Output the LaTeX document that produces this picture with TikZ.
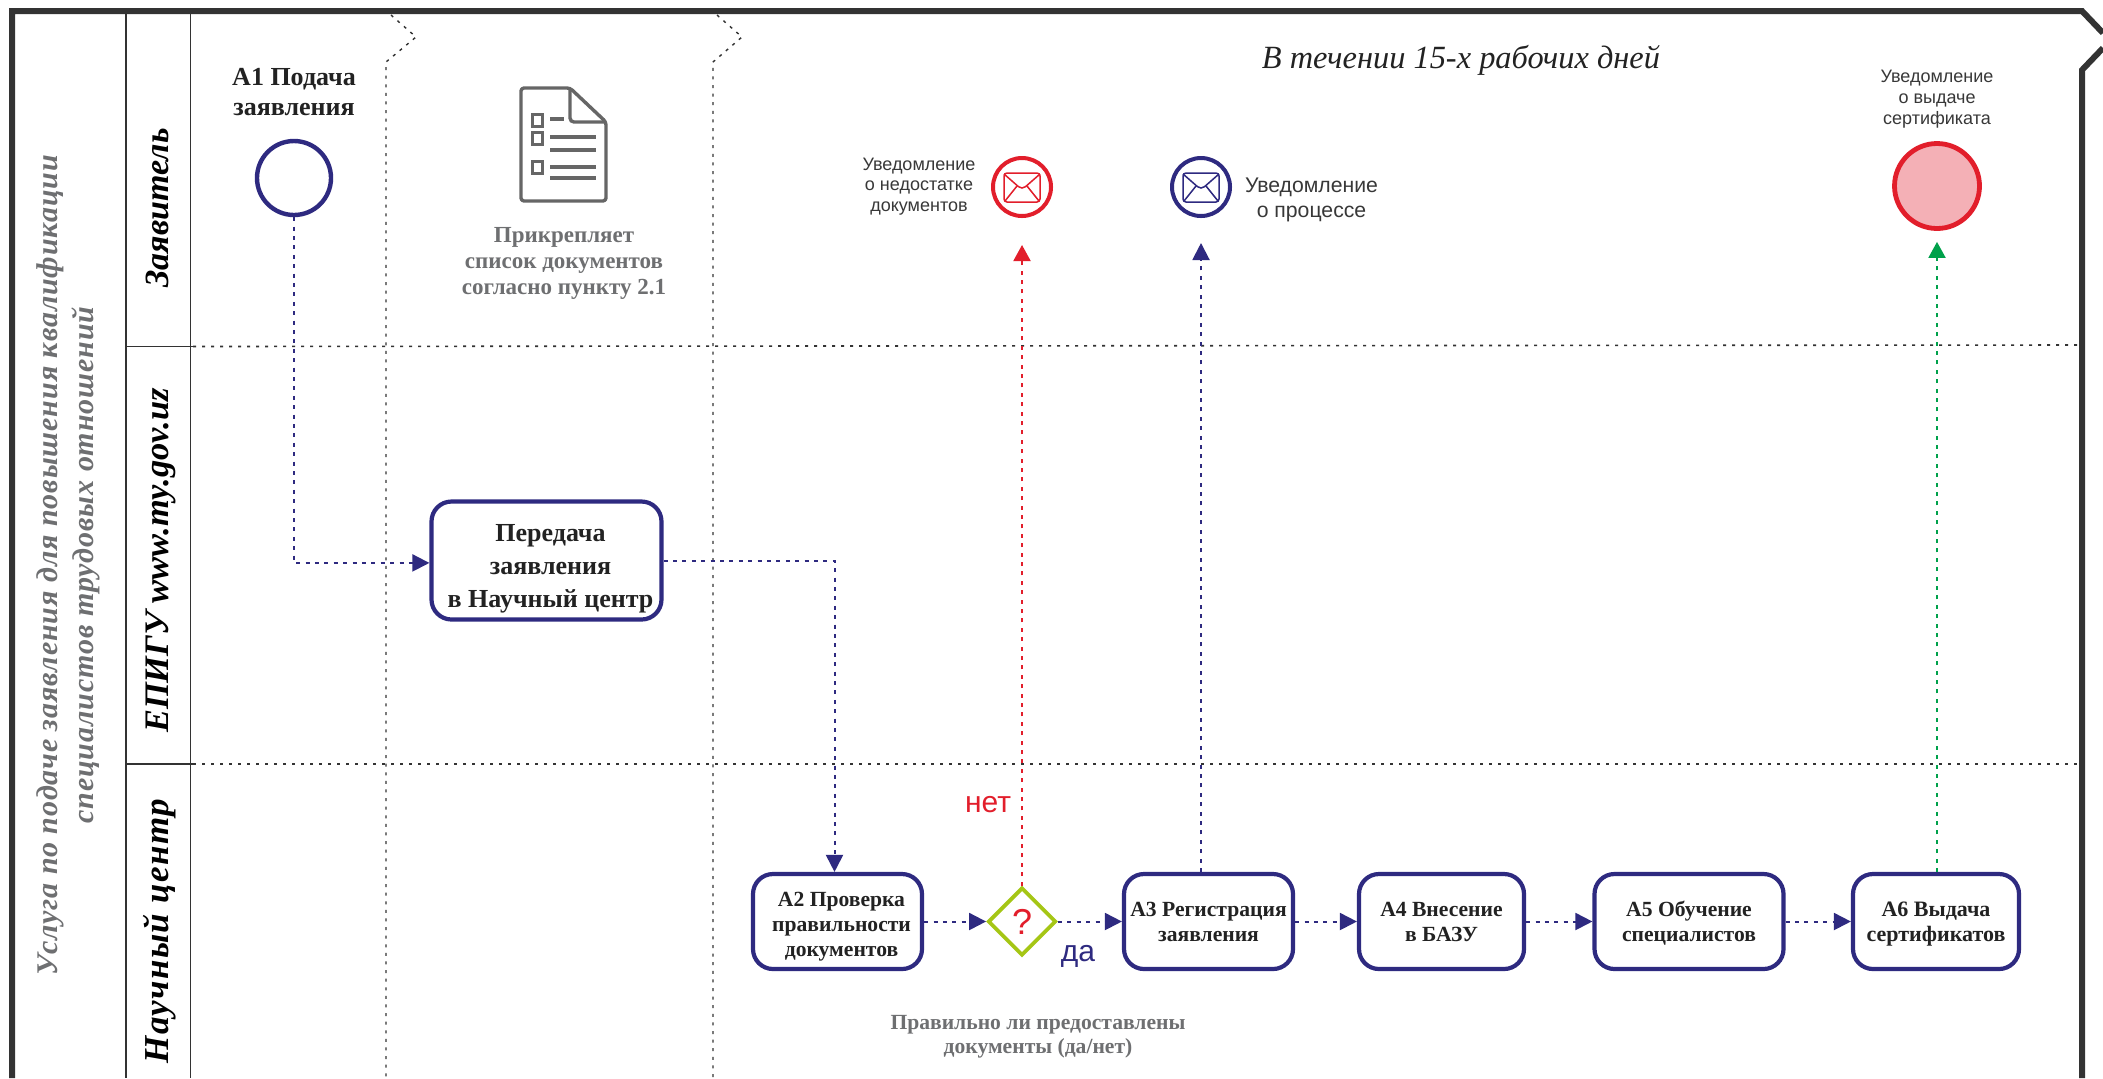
\documentclass[tikz,border=0pt]{standalone}
\usepackage{fontspec}
\setmainfont{Liberation Serif}
\setsansfont{Liberation Sans}
\usetikzlibrary{arrows.meta,shapes.geometric,calc}
\definecolor{flowblue}{HTML}{2E2A80}
\definecolor{flowred}{HTML}{E21E2B}
\definecolor{flowgreen}{HTML}{00A14B}
\definecolor{gateolive}{HTML}{A5C615}
\definecolor{framedark}{HTML}{333333}
\definecolor{inkdark}{HTML}{222222}
\definecolor{softgray}{HTML}{6E6F71}
\definecolor{iconcol}{HTML}{666666}
\definecolor{pinkfill}{HTML}{F4B0B6}
% box text, moved by (dx,dy) from the middle of its box
\newcommand{\boxlines}[3]{\makebox[0pt][c]{\hspace*{#1}\hspace*{#1}\raisebox{\dimexpr-#2-2.7pt\relax}[0pt][0pt]{\begin{tabular}{@{}c@{}}#3\end{tabular}}}}
\tikzset{
  x=0.5pt,y=-0.5pt,
  frameline/.style={draw=framedark,line width=3pt,line join=miter},
  laneline/.style={draw=framedark,line width=0.75pt},
  lanedots/.style={draw=framedark,line width=0.8pt,dash pattern=on 1.5pt off 3pt},
  phasedash/.style={draw=framedark,line width=0.7pt,dash pattern=on 1.5pt off 2.8pt},
  procbox/.style={draw=flowblue,fill=white,rounded corners=10pt,line width=2.1pt,inner sep=0pt,
    font=\bfseries\fontsize{10.8}{12.4}\selectfont,text=inkdark},
  flowbase/.style={line width=1pt,dash pattern=on 2pt off 2.7pt},
  flowarrow/.style={flowbase,draw=flowblue,-{Triangle[length=8.5pt,width=8.5pt,color=flowblue]}},
  redarrow/.style={flowbase,draw=flowred,-{Triangle[length=8pt,width=8.5pt,color=flowred]}},
  greenarrow/.style={flowbase,draw=flowgreen,-{Triangle[length=8pt,width=8.5pt,color=flowgreen]}},
  titlebold/.style={font=\bfseries\fontsize{13}{15}\selectfont,text=inkdark,align=center,inner sep=0pt},
  graybold/.style={font=\bfseries\fontsize{11.5}{13}\selectfont,text=softgray,align=center,inner sep=0pt},
  sidetext/.style={font=\bfseries\itshape\fontsize{15}{18}\selectfont\addfontfeature{LetterSpace=3},text=softgray,align=center,rotate=90,inner sep=0pt},
  lanetext/.style={font=\bfseries\itshape\fontsize{17}{20}\selectfont,text=black,rotate=90,inner sep=0pt,text height=12pt,text depth=3.5pt},
  notetext/.style={font=\sffamily\fontsize{9}{10.4}\selectfont,text=inkdark!90,align=center,inner sep=0pt},
  msgev/.style={circle,line width=2pt,minimum size=29pt,inner sep=0pt,fill=white},
  iconline/.style={draw=iconcol,line width=1.7pt},
  envline/.style={line width=0.75pt,rounded corners=1.5pt},
}
\begin{document}
\begin{tikzpicture}
\useasboundingbox (0,0) rectangle (2103,1078);
\fill[white] (0,0) rectangle (2103,1078);

% frame
\draw[frameline] (12,1078) -- (12,11) -- (2082,11) -- (2103,33);
\draw[frameline] (2103,48) -- (2082,70) -- (2082,1078);
\draw[laneline,line width=1.2pt] (126,11) -- (126,1078);
\draw[laneline] (190.5,11) -- (190.5,1078);
\draw[laneline] (126,346.5) -- (193,346.5);
\draw[laneline] (126,764) -- (193,764);
\draw[lanedots] (193,346.5) -- (2082,345);
\draw[lanedots] (193,764) -- (2082,764);

% phase separators
\draw[phasedash] (391,15) -- (416,37) -- (386,62) -- (386,1078);
\draw[phasedash] (717,15) -- (742,37) -- (713,62) -- (713,1078);

% side labels
\node[sidetext] (svctitle) at (68,565) {Услуга по подаче заявления для повышения квалификации\\специалистов трудовых отношений};
\node[lanetext] (laneA) at (159.5,208) {Заявитель};
\node[lanetext,font=\bfseries\itshape\fontsize{17.2}{20}\selectfont] (laneB) at (159.5,560.5) {ЕПИГУ www.my.gov.uz};
\node[lanetext,font=\bfseries\itshape\fontsize{17.5}{20}\selectfont\addfontfeature{LetterSpace=4}] (laneC) at (159.5,931) {Научный центр};

% headline
\node[font=\itshape\fontsize{16.2}{20}\selectfont,text=inkdark,inner sep=0pt] (period) at (1461,60) {В течении 15-х рабочих дней};

% start
\node[titlebold] (a1label) at (294,92) {А1 Подача\\заявления};
\node[circle,draw=flowblue,line width=2.2pt,minimum size=37pt,inner sep=0pt,fill=white] (a1) at (294,178) {};

% document icon
\draw[iconline,line join=round,rounded corners=1.5pt] (570,88) -- (521,88) -- (521,201) -- (606,201) -- (606,122) -- cycle;
\draw[iconline,rounded corners=2pt] (570,88) -- (570,122) -- (606,122);
\draw[iconline,line width=1.5pt] (532,114) rectangle (542,126);
\draw[iconline,line width=1.5pt] (532,132) rectangle (542,144);
\draw[iconline,line width=1.5pt] (532,161) rectangle (542,173);
\draw[iconline] (550,119) -- (564,119);
\draw[iconline] (550,137) -- (596,137);
\draw[iconline] (550,150) -- (596,150);
\draw[iconline] (550,167) -- (596,167);
\draw[iconline] (550,178) -- (596,178);
\node[graybold] (doclabel) at (564,263) {Прикрепляет\\список документов\\согласно пункту 2.1};

% notifications
\node[msgev,draw=flowred] (noteR) at (1022,187) {};
\node[msgev,draw=flowblue] (noteB) at (1201,187) {};
\foreach \cx/\col in {1022/flowred,1201/flowblue}{
  \draw[envline,draw=\col] (\cx-18,173) rectangle (\cx+18,202);
  \draw[envline,draw=\col,rounded corners=1pt] (\cx-18,174) -- (\cx-2,188) -- (\cx+2,188) -- (\cx+18,174);
  \draw[envline,draw=\col] (\cx-17,201) -- (\cx-5,186);
  \draw[envline,draw=\col] (\cx+17,201) -- (\cx+5,186);
}
\node[notetext] (noteRtext) at (919,186.5) {Уведомление\\о недостатке\\документов};
\node[notetext,font=\sffamily\fontsize{10.6}{12.4}\selectfont] (noteBtext) at (1311.5,200) {Уведомление\\о процессе};
\node[notetext] (endtext) at (1937,99) {Уведомление\\о выдаче\\сертификата};
\node[circle,draw=flowred,fill=pinkfill,line width=2.4pt,minimum size=42.5pt,inner sep=0pt] (endev) at (1937,186) {};

% boxes
\node[procbox,minimum width=115pt,minimum height=59pt,font=\bfseries\fontsize{13}{16.7}\selectfont] (transfer) at (546.5,560.5) {\boxlines{2pt}{4pt}{Передача\\заявления\\в Научный центр}};
\node[procbox,minimum width=84.5pt,minimum height=47.5pt] (a2) at (837.5,921.5) {\boxlines{2pt}{2.5pt}{А2 Проверка\\правильности\\документов}};
\node[diamond,draw=gateolive,line width=1.9pt,fill=white,minimum width=34pt,minimum height=34pt,aspect=1,inner sep=0pt,text=flowred,font=\sffamily\fontsize{18}{20}\selectfont] (gate) at (1022,921.5) {?};
\node[procbox,minimum width=84.5pt,minimum height=47.5pt] (a3) at (1208.5,921.5) {\boxlines{0pt}{1.3pt}{А3 Регистрация\\заявления}};
\node[procbox,minimum width=82.5pt,minimum height=47.5pt] (a4) at (1441.5,921.5) {\boxlines{0pt}{1.3pt}{А4 Внесение\\в БАЗУ}};
\node[procbox,minimum width=94.5pt,minimum height=47.5pt] (a5) at (1689,921.5) {\boxlines{0pt}{1.3pt}{А5 Обучение\\специалистов}};
\node[procbox,minimum width=83pt,minimum height=47.5pt,font=\bfseries\fontsize{11}{12.4}\selectfont] (a6) at (1936,921.5) {\boxlines{0pt}{1.3pt}{А6 Выдача\\сертификатов}};

\node[font=\sffamily\fontsize{15}{17}\selectfont,text=flowred,inner sep=0pt] (nolabel) at (988,805) {нет};
\node[font=\sffamily\fontsize{15}{17}\selectfont,text=flowblue,inner sep=0pt] (yeslabel) at (1078,956) {да};
\node[graybold,font=\bfseries\fontsize{10.8}{12.2}\selectfont] (gatenote) at (1038,1037) {Правильно ли предоставлены\\документы (да/нет)};

% connectors
\draw[flowarrow] (a1.south) |- ([yshift=-1.2pt]transfer.west);
\draw[flowarrow] (transfer.east) -| ([xshift=-1.5pt]a2.north);
\draw[flowarrow] (a2.east) -- (gate.west);
\draw[flowarrow] (gate.east) -- (a3.west);
\draw[flowarrow] (a3.east) -- (a4.west);
\draw[flowarrow] (a4.east) -- (a5.west);
\draw[flowarrow] (a5.east) -- (a6.west);
\draw[redarrow,shorten >=13.5pt] (gate.north) -- (noteR.south);
\draw[flowarrow,shorten >=12.5pt] (noteB |- a3.north) -- (noteB.south);
\draw[greenarrow,shorten >=5.5pt] (endev |- a6.north) -- (endev.south);
\end{tikzpicture}
\end{document}
